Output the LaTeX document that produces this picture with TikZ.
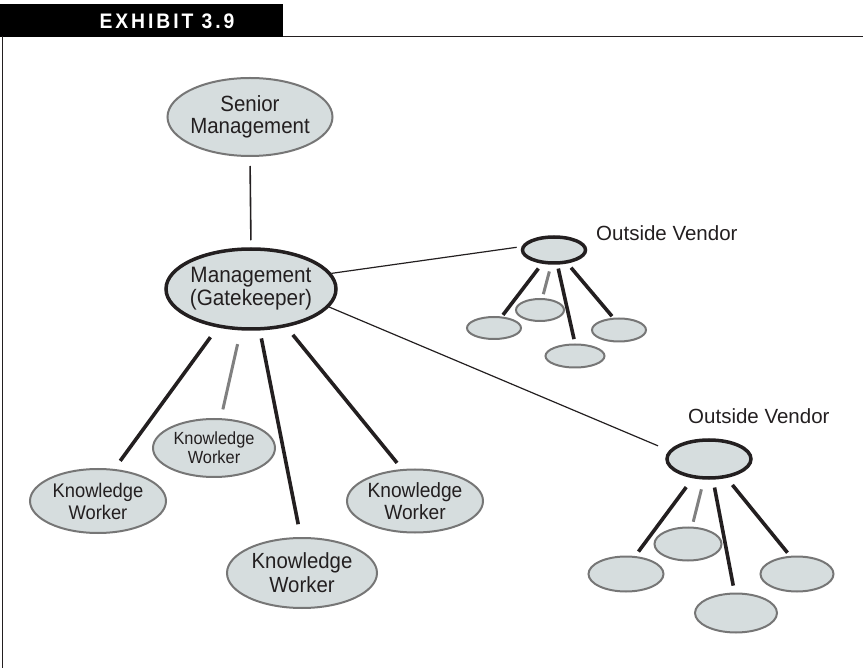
\documentclass[tikz,border=0pt]{standalone}
\usepackage{fontspec}
\setmainfont{Liberation Sans}
\newfontfamily\headfont[LetterSpace=14,FakeStretch=0.92]{Liberation Sans}
\newfontfamily\ovalfont[FakeStretch=0.93]{Liberation Sans}
\usepackage{tikz}
\usetikzlibrary{shapes.geometric}
\definecolor{nodefill}{RGB}{214,221,222}
\definecolor{nodeline}{RGB}{118,118,118}
\definecolor{darkline}{RGB}{35,31,32}
\definecolor{greyline}{RGB}{128,128,128}
\tikzset{
oval/.style={ellipse,draw=nodeline,fill=nodefill,line width=2pt,inner xsep=-10pt,inner ysep=-5pt,align=center,text=darkline},
bossoval/.style={oval,draw=darkline,line width=3.5pt},
heavylink/.style={draw=darkline,line width=3.6pt},
greylink/.style={draw=greyline,line width=3pt},
thinlink/.style={draw=darkline,line width=1.2pt},
}

\begin{document}
\begin{tikzpicture}[x=1pt,y=-1pt]
\useasboundingbox (0,0) rectangle (863,668);
\fill[black] (0,4) rectangle (283,37);
\node[text=white,font=\fontsize{21}{22}\selectfont\headfont\bfseries] (title) at (167,21) {EXHIBIT 3.9};
\draw[darkline,line width=1.2pt] (283,36.5) -- (863,36.5);
\draw[darkline,line width=1.2pt] (2.5,36) -- (2.5,668);
\node[oval,minimum width=165pt,minimum height=78pt,font=\ovalfont\fontsize{22}{22}\selectfont] (senior) at (250,117) {Senior\\Management};
\node[bossoval,minimum width=170pt,minimum height=80pt,font=\ovalfont\fontsize{22.3}{23}\selectfont] (gate) at (251,289) {Management\\(Gatekeeper)};
\node[oval,minimum width=136pt,minimum height=64pt,font=\ovalfont\fontsize{19.7}{22}\selectfont] (kwA) at (98,501) {Knowledge\\Worker};
\node[oval,minimum width=122pt,minimum height=58pt,font=\ovalfont\fontsize{17.6}{19}\selectfont] (kwB) at (214,448) {Knowledge\\Worker};
\node[oval,minimum width=150pt,minimum height=70pt,font=\ovalfont\fontsize{21.9}{24}\selectfont] (kwC) at (302,573) {Knowledge\\Worker};
\node[oval,minimum width=136pt,minimum height=63pt,font=\ovalfont\fontsize{20.6}{22}\selectfont] (kwD) at (415,501) {Knowledge\\Worker};
\node[bossoval,minimum width=63pt,minimum height=26pt] (vendA) at (554,250) {};
\node[oval,minimum width=54pt,minimum height=22pt] (va1) at (494,328) {};
\node[oval,minimum width=48pt,minimum height=22pt] (va2) at (540,310) {};
\node[oval,minimum width=59pt,minimum height=23pt] (va3) at (575,356) {};
\node[oval,minimum width=54pt,minimum height=23pt] (va4) at (619,330) {};
\node[bossoval,minimum width=84pt,minimum height=38pt] (vendB) at (709,459) {};
\node[oval,minimum width=75pt,minimum height=35pt] (vb1) at (626,574) {};
\node[oval,minimum width=67pt,minimum height=33pt] (vb2) at (688,544) {};
\node[oval,minimum width=82pt,minimum height=39pt] (vb3) at (736,613) {};
\node[oval,minimum width=73pt,minimum height=35pt] (vb4) at (797,574) {};
\node[anchor=west,inner sep=0pt,text=darkline,font=\fontsize{20.5}{22}\selectfont] (vendAlabel) at (596,233) {Outside Vendor};
\node[anchor=west,inner sep=0pt,text=darkline,font=\fontsize{20.5}{22}\selectfont] (vendBlabel) at (688,416) {Outside Vendor};
\draw[thinlink,line width=1.6pt,shorten <=9pt,shorten >=7pt] (senior.south) -- (gate.north);
\draw[thinlink,shorten >=5pt] (gate.11) -- (vendA.174);
\draw[thinlink,shorten >=12pt] (gate.347) -- (vendB.168);
\draw[heavylink,shorten <=12pt,shorten >=10pt] (gate.229) -- (kwA.63);
\draw[greylink,shorten <=14pt,shorten >=9pt] (gate.256) -- (kwB.77);
\draw[heavylink,shorten <=8pt,shorten >=13pt] (gate.282) -- (kwC.92);
\draw[heavylink,shorten <=10pt,shorten >=8pt] (gate.313) -- (kwD.112);
\draw[heavylink,shorten <=6pt,shorten >=2pt] (vendA.229) -- (va1.56);
\draw[greylink,shorten <=7pt,shorten >=4pt] (vendA.259) -- (va2.79);
\draw[heavylink,shorten <=4pt,shorten >=4.5pt] (vendA.283) -- (va3.90);
\draw[heavylink,shorten <=5.5pt,shorten >=2pt] (vendA.315) -- (va4.115);
\draw[heavylink,shorten <=11pt,shorten >=5.5pt] (vendB.230) -- (vb1.63);
\draw[greylink,shorten <=10pt,shorten >=5pt] (vendB.256) -- (vb2.77);
\draw[heavylink,shorten <=8pt,shorten >=7pt] (vendB.281) -- (vb3.94);
\draw[heavylink,shorten <=9pt,shorten >=4pt] (vendB.313) -- (vb4.111);
\end{tikzpicture}
\end{document}
